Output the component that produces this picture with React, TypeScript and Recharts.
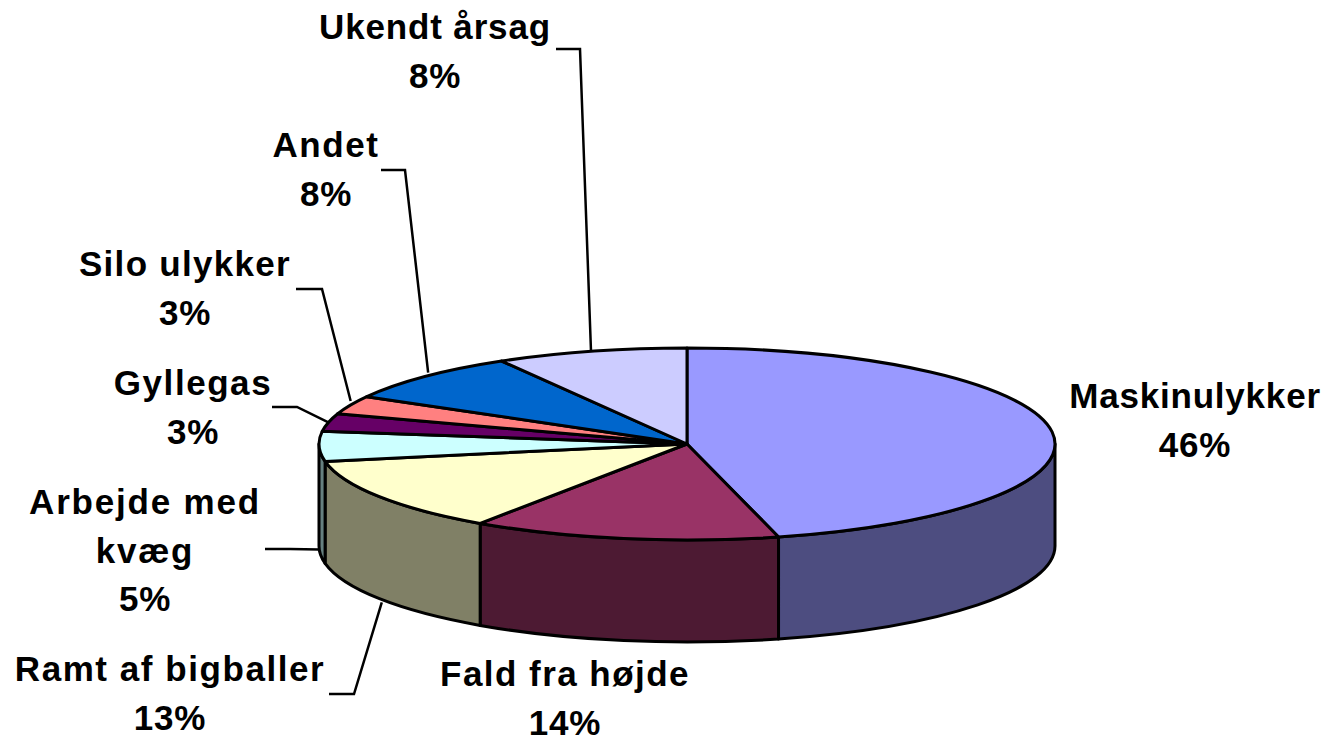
import React from "react";
import { PieChart, Pie, Cell } from "recharts";

const categories = [
  "Maskinulykker",
  "Fald fra højde",
  "Ramt af bigballer",
  "Arbejde med kvæg",
  "Gyllegas",
  "Silo ulykker",
  "Andet",
  "Ukendt årsag",
];
// read from the slice boundaries, the labels show them rounded
const values = [46, 13.5, 12.6, 5, 3, 3.1, 8.4, 8.4];
const topColors = ["#9999FF", "#993366", "#FFFFCC", "#CCFFFF", "#660066", "#FF8080", "#0066CC", "#CCCCFF"];
const wallColors = ["#4D4D80", "#4D1A33", "#808066", "#668080", "#330033", "#804040", "#003366", "#666680"];

// label placement: x centre, first baseline, tracking of the name
const labelX = [1195, 565, 170, 145, 193, 185, 326, 435];
const labelY = [408, 686, 681, 514, 395, 276, 157, 39];
const labelTracking = [0.8, 1.45, 1.55, 1.8, 1.55, 1.3, 1.6, 0.85];
// leader start + elbow (x, y), null when Excel drew no leader
const leaderFrom: (number[] | null)[] = [
  null,
  null,
  [329, 694, 354, 694],
  [265, 549, 290, 549],
  [272, 407, 297, 407],
  [296, 289, 322, 289],
  [381, 170, 405, 170],
  [556, 49, 580, 49],
];
// nudge of the leader end from the rim point
const leaderNudge = [
  [0, 0],
  [0, 0],
  [3, 106],
  [0, 103],
  [0, 0],
  [0, -4],
  [3, -4],
  [0, 0],
];

const W = 1327;
const H = 737;
const CX = 687;
const CY = 444;
const RX = 368;
const RY = 96;
const DEPTH = 102;
const RAD = Math.PI / 180;

const rim = (cx: number, cy: number, deg: number) => [
  cx + RX * Math.cos(deg * RAD),
  cy - RY * Math.sin(deg * RAD),
];

// flattened sector with its front wall
function TiltedSector(props: any) {
  const { cx, cy, startAngle, endAngle, index } = props;
  const [x0, y0] = rim(cx, cy, startAngle);
  const [x1, y1] = rim(cx, cy, endAngle);
  const large = Math.abs(startAngle - endAngle) > 180 ? 1 : 0;
  const top = `M${cx},${cy} L${x0},${y0} A${RX},${RY} 0 ${large} 1 ${x1},${y1} Z`;

  const s = Math.min(startAngle, 0);
  const e = Math.max(endAngle, -180);
  let wall = null;
  if (s > e) {
    const [wx0, wy0] = rim(cx, cy, s);
    const [wx1, wy1] = rim(cx, cy, e);
    wall = (
      <path
        d={`M${wx0},${wy0} A${RX},${RY} 0 0 1 ${wx1},${wy1} L${wx1},${wy1 + DEPTH} A${RX},${RY} 0 0 0 ${wx0},${wy0 + DEPTH} Z`}
        fill={wallColors[index]}
        stroke="#000"
        strokeWidth={3}
        strokeLinejoin="round"
      />
    );
  }
  return (
    <g>
      {wall}
      <path d={top} fill={topColors[index]} stroke="#000" strokeWidth={3} strokeLinejoin="round" />
    </g>
  );
}

function SliceLabel(props: any) {
  const { cx, cy, midAngle, index } = props;
  const name = categories[index];
  const lines = name === "Arbejde med kvæg" ? ["Arbejde med", "kvæg"] : [name];
  const from = leaderFrom[index];
  let leader = null;
  if (from) {
    const [ex, ey] = rim(cx, cy, midAngle);
    leader = (
      <polyline
        points={`${from[0]},${from[1]} ${from[2]},${from[3]} ${ex + leaderNudge[index][0]},${ey + leaderNudge[index][1]}`}
        fill="none"
        stroke="#000"
        strokeWidth={2.5}
      />
    );
  }
  return (
    <g>
      {leader}
      <text
        x={labelX[index]}
        y={labelY[index]}
        textAnchor="middle"
        fontFamily="Liberation Sans"
        fontWeight="bold"
        fontSize={35}
        fill="#000"
      >
        {lines.map((l) => (
          <tspan key={l} x={labelX[index]} dy={l === lines[0] ? 0 : 48.5} letterSpacing={labelTracking[index]}>
            {l}
          </tspan>
        ))}
        <tspan x={labelX[index]} dy={48.5} letterSpacing={0.8}>{`${Math.round(values[index])}%`}</tspan>
      </text>
    </g>
  );
}

export default function App() {
  const data = categories.map((name, i) => ({ name, value: values[i] }));
  return (
    <div style={{ position: "absolute", left: 0, top: 0, background: "#fff" }}>
      <PieChart width={W} height={H} margin={{ top: 0, right: 0, bottom: 0, left: 0 }}>
        <Pie
          data={data}
          dataKey="value"
          nameKey="name"
          cx={CX}
          cy={CY}
          innerRadius={0}
          outerRadius={RX}
          startAngle={90}
          endAngle={-270}
          paddingAngle={0}
          isAnimationActive={false}
          shape={TiltedSector}
          label={SliceLabel}
          labelLine={false}
        >
          {data.map((d, i) => (
            <Cell key={d.name} fill={topColors[i]} />
          ))}
        </Pie>
      </PieChart>
    </div>
  );
}
